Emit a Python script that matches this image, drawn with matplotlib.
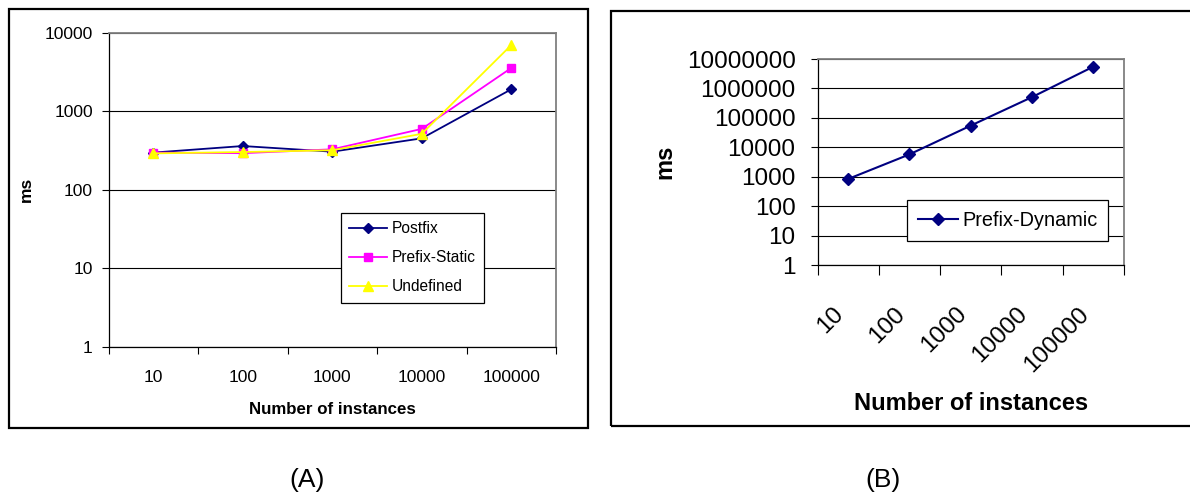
import numpy as np
import matplotlib
matplotlib.use("Agg")
import matplotlib.pyplot as plt
from matplotlib.ticker import FixedLocator, FixedFormatter, NullLocator
from matplotlib.patches import Rectangle

plt.rcParams['font.family'] = ['Liberation Sans', 'DejaVu Sans']

# ---------------- data ----------------
categories = ['10', '100', '1000', '10000', '100000']
postfix = [297, 360, 305, 451, 1900]
prefix_static = [297, 292, 327, 595, 3550]
undefined = [290, 302, 318, 515, 6950]
prefix_dynamic = [850, 5800, 55000, 510000, 5500000]
yticks_a = [1, 10, 100, 1000, 10000]
yticks_b = [1, 10, 100, 1000, 10000, 100000, 1000000, 10000000]
xlabel_text = 'Number of instances'
ylabel_text = 'ms'

W, H = 1190, 495
fig = plt.figure(figsize=(W / 100, H / 100), dpi=100)


def px_axes(l, t, r, b):
    return fig.add_axes([l / W, 1 - b / H, (r - l) / W, (b - t) / H])


def frame(l, t, r, b):
    fig.add_artist(Rectangle((l / W, 1 - b / H), (r - l) / W, (b - t) / H,
                             transform=fig.transFigure, fill=False,
                             ec='black', lw=1.6))


def style(ax, yt, fs, ylen, ypad, xpad, xminlen):
    ax.set_yscale('log')
    ax.set_ylim(yt[0], yt[-1])
    ax.yaxis.set_major_locator(FixedLocator(yt))
    ax.yaxis.set_major_formatter(FixedFormatter([str(v) for v in yt]))
    ax.yaxis.set_minor_locator(NullLocator())
    n = len(categories)
    ax.set_xlim(-0.5, n - 0.5)
    ax.set_xticks(np.arange(n + 1) - 0.5, minor=True)
    ax.tick_params(axis='x', which='major', length=0, pad=xpad, labelsize=fs)
    ax.tick_params(axis='x', which='minor', length=xminlen, width=0.8,
                   direction='out', color='black')
    ax.tick_params(axis='y', which='major', length=ylen, width=0.8,
                   direction='out', pad=ypad, labelsize=fs)
    ax.yaxis.grid(True, color='black', lw=0.8)
    ax.set_axisbelow(True)
    for s in ('left', 'bottom'):
        ax.spines[s].set_color('black')
        ax.spines[s].set_linewidth(0.9)
    for s in ('top', 'right'):
        ax.spines[s].set_color('#808080')
        ax.spines[s].set_linewidth(1.3)


# ---------------- panel A ----------------
frame(9.2, 9.3, 587.5, 427.7)
axA = px_axes(108.5, 32.7, 556, 346.7)
axA.plot(categories, postfix, color='#000080', lw=1.3, marker='D', ms=4.6,
         label='Postfix')
axA.plot(categories, prefix_static, color='#FF00FF', lw=1.3, marker='s', ms=6.3,
         label='Prefix-Static')
axA.plot(categories, undefined, color='#FFFF00', lw=1.3, marker='^', ms=7.5,
         label='Undefined')
style(axA, yticks_a, 12.6, 4.75, 6.5, 16.8, 5)
axA.set_xlabel(xlabel_text, fontsize=12.2, fontweight='bold', va='center')
axA.xaxis.set_label_coords(0.5, (346.7 - 409) / 314.0)
axA.set_ylabel(ylabel_text, fontsize=12.5, fontweight='bold', va='center')
axA.yaxis.set_label_coords((26 - 108.5) / 447.5, 0.5)
legA = axA.legend(loc='upper left', bbox_to_anchor=(0.519, 0.4268),
                  borderaxespad=0, fontsize=11.2, frameon=True, fancybox=False,
                  edgecolor='black', framealpha=1, handlelength=2.4,
                  handletextpad=0.3, borderpad=0.55, labelspacing=0.9)
legA.get_frame().set_linewidth(0.9)

# ---------------- panel B ----------------
frame(611, 11, 1196, 426)
axB = px_axes(817.5, 59, 1124, 265.3)
axB.plot(categories, prefix_dynamic, color='#000080', lw=1.5, marker='D', ms=6,
         label='Prefix-Dynamic')
style(axB, yticks_b, 17.5, 5, 10.8, 27, 7.2)
plt.setp(axB.get_xticklabels(), rotation=45, ha='right')
axB.set_xlabel(xlabel_text, fontsize=17, fontweight='bold', va='center')
axB.xaxis.set_label_coords((971 - 817.5) / 306.5, (265.3 - 403) / 206.3)
axB.set_ylabel(ylabel_text, fontsize=17, fontweight='bold', va='center')
axB.yaxis.set_label_coords((665 - 817.5) / 306.5, 0.5)
legB = axB.legend(loc='upper left', bbox_to_anchor=(0.292, 0.3155),
                  borderaxespad=0, fontsize=14.3, frameon=True, fancybox=False,
                  edgecolor='black', framealpha=1, handlelength=2.0,
                  handletextpad=0.22, borderpad=0.55)
legB.get_frame().set_linewidth(0.9)

fig.text(307 / W, 1 - 480 / H, '(A)', ha='center', va='center', fontsize=19)
fig.text(883 / W, 1 - 480 / H, '(B)', ha='center', va='center', fontsize=19)

fig.savefig('out.png', dpi=100)
